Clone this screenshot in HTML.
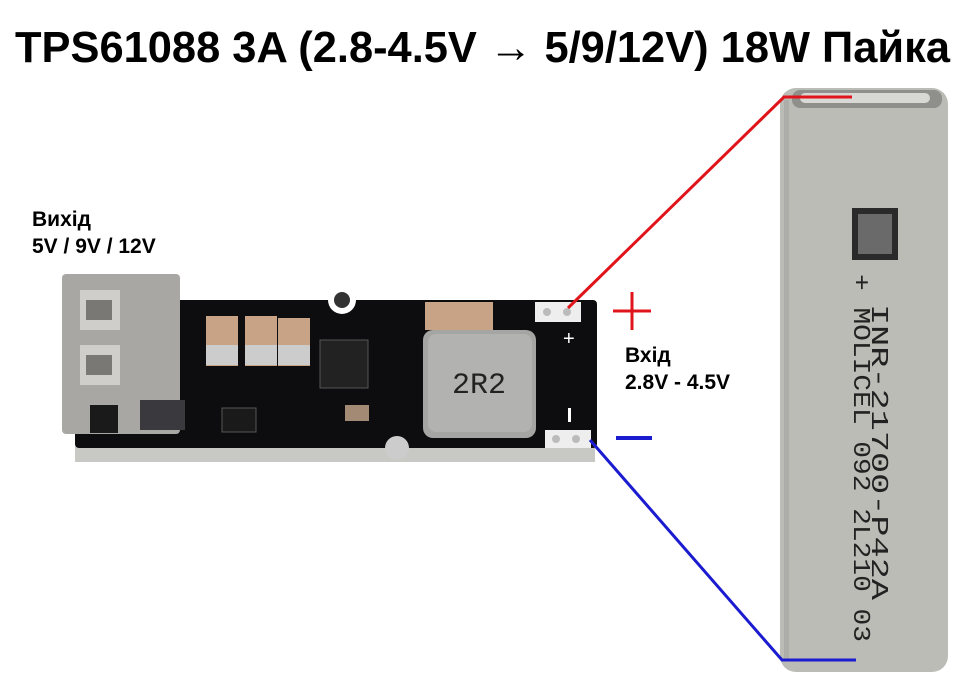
<!DOCTYPE html>
<html><head><meta charset="utf-8"><style>
html,body{margin:0;padding:0;background:#fff;width:972px;height:700px;overflow:hidden}
svg{display:block}
text{font-family:"Liberation Sans",sans-serif}
text.m{font-family:"Liberation Mono","DejaVu Sans Mono",monospace}
</style></head><body>
<svg width="972" height="700" viewBox="0 0 972 700" xmlns="http://www.w3.org/2000/svg">
<rect width="972" height="700" fill="#fff"/>
<text x="15" y="62" font-size="44" font-weight="bold" textLength="935" lengthAdjust="spacingAndGlyphs" fill="#000">TPS61088 3A (2.8-4.5V → 5/9/12V) 18W Пайка</text>
<text x="32" y="226" font-size="21" font-weight="bold" fill="#000">Вихід</text>
<text x="32" y="253" font-size="21" font-weight="bold" fill="#000">5V / 9V / 12V</text>
<text x="625" y="362" font-size="21" font-weight="bold" fill="#000">Вхід</text>
<text x="625" y="389" font-size="21" font-weight="bold" fill="#000">2.8V - 4.5V</text>
<path d="M613 311 H651 M632 292 V330" stroke="#e0141b" stroke-width="3"/>
<path d="M616 438 H652" stroke="#1b1bd0" stroke-width="4"/>
<rect x="75" y="440" width="520" height="22" fill="#c8c8c4"/>
<rect x="75" y="300" width="522" height="148" rx="4" fill="#0d0d0f"/>
<circle cx="342" cy="300" r="14" fill="#fff"/>
<circle cx="342" cy="300" r="8" fill="#333"/>
<circle cx="397" cy="448" r="12" fill="#ccc"/>
<rect x="535" y="302" width="46" height="20" fill="#eee"/>
<circle cx="547" cy="312" r="4" fill="#bbb"/><circle cx="567" cy="312" r="4" fill="#bbb"/>
<rect x="545" y="430" width="46" height="18" fill="#eee"/>
<circle cx="556" cy="439" r="4" fill="#bbb"/><circle cx="576" cy="439" r="4" fill="#bbb"/>
<text x="563" y="345" font-size="20" fill="#fff">+</text>
<rect x="568" y="408" width="3" height="14" fill="#fff"/>
<rect x="206" y="316" width="32" height="50" fill="#c9a385"/><rect x="206" y="345" width="32" height="20" fill="#ccc"/>
<rect x="245" y="316" width="32" height="50" fill="#c9a385"/><rect x="245" y="345" width="32" height="20" fill="#ccc"/>
<rect x="278" y="318" width="32" height="48" fill="#c9a385"/><rect x="278" y="345" width="32" height="20" fill="#ccc"/>
<rect x="425" y="302" width="68" height="28" fill="#c9a385"/>
<rect x="320" y="340" width="48" height="48" fill="#222" stroke="#555"/>
<rect x="222" y="408" width="34" height="24" fill="#1a1a1a" stroke="#555"/>
<rect x="345" y="405" width="24" height="16" fill="#a38a74"/>
<rect x="423" y="330" width="113" height="108" rx="10" fill="#a5a5a3"/>
<rect x="428" y="334" width="104" height="98" rx="8" fill="#b2b2b0"/>
<text class="m" x="452" y="393" font-size="30" fill="#222">2R2</text>
<rect x="62" y="274" width="118" height="160" rx="4" fill="#a9a7a3"/>
<rect x="80" y="290" width="40" height="40" fill="#d0cecb"/>
<rect x="80" y="345" width="40" height="40" fill="#d0cecb"/>
<rect x="86" y="300" width="26" height="20" fill="#7a7875"/>
<rect x="86" y="355" width="26" height="20" fill="#7a7875"/>
<rect x="140" y="400" width="45" height="30" fill="#3a3a3e"/>
<rect x="90" y="405" width="28" height="28" fill="#1a1a1a"/>
<rect x="780" y="88" width="168" height="584" rx="16" fill="#bcbcb7"/>
<rect x="792" y="90" width="150" height="18" rx="8" fill="#8f8f8c"/>
<rect x="800" y="93" width="130" height="10" rx="5" fill="#d8d8d4"/>
<rect x="784" y="100" width="5" height="560" fill="#adada9"/>
<rect x="852" y="208" width="46" height="52" fill="#2a2a2a"/>
<rect x="858" y="214" width="34" height="40" fill="#6a6a6a"/>
<g transform="translate(858,274) rotate(90)" fill="#222">
<text class="m" x="0" y="4" font-size="24" textLength="368" lengthAdjust="spacingAndGlyphs">+ MOLICEL 092 2L210 03</text>
<text class="m" x="30" y="-14" font-size="24" textLength="296" lengthAdjust="spacingAndGlyphs">INR-21700-P42A</text>
</g>
<polyline points="568,308 784,97 852,97" fill="none" stroke="#e0141b" stroke-width="3"/>
<polyline points="590,440 782,660 856,660" fill="none" stroke="#1b1bd0" stroke-width="3"/>
</svg>
</body></html>
